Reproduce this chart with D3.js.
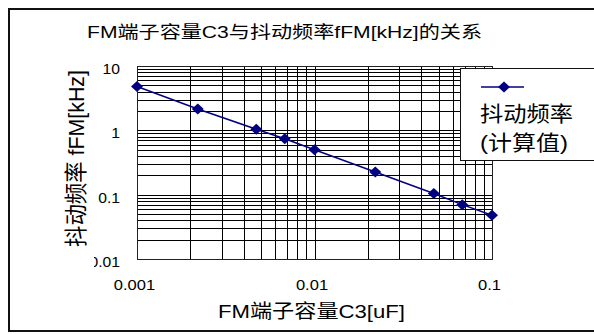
<!DOCTYPE html>
<html>
<head>
<meta charset="utf-8">
<script src="https://cdn.jsdelivr.net/npm/d3@7/dist/d3.min.js"></script>
<style>
  html, body { margin: 0; padding: 0; background: #fff; }
  svg { display: block; }
  text { font-family: "Liberation Sans", Arial, "Noto Sans CJK SC", sans-serif; fill: #000; }
</style>
</head>
<body>
<svg id="chart" width="594" height="334"></svg>
<script>
// Capacitance at the FM pin (uF) and the resulting jitter frequency (kHz)
const capacitance = [0.001, 0.0022, 0.0047, 0.0068, 0.01, 0.022, 0.047, 0.068, 0.1];
const jitterFreq  = [4.8, 2.15, 1.04, 0.74, 0.5, 0.225, 0.104, 0.07, 0.048];

const xTickLabels = ["0.001", "0.01", "0.1"];
const yTickLabels = ["0.01", "0.1", "1", "10"];

const titleText  = "FM端子容量C3与抖动频率fFM[kHz]的关系";
const xTitleText = "FM端子容量C3[uF]";
const yTitleText = "抖动频率 fFM[kHz]";
const legendLines = ["抖动频率", "(计算值)"];

const svg = d3.select("#chart");
const W = 594, H = 334;
const plot = { left: 137, right: 492, top: 66, bottom: 259 };
const navy = "#000080";

const x = d3.scaleLog().domain([0.001, 0.1]).range([plot.left, plot.right]);
const y = d3.scaleLog().domain([0.01, 10]).range([plot.bottom, plot.top]);

// stretch text horizontally to a given width
function fit(sel, width) {
  sel.attr("textLength", width).attr("lengthAdjust", "spacingAndGlyphs");
}
function widen(sel, k) {
  sel.each(function () {
    const n = this.getComputedTextLength();
    d3.select(this).attr("textLength", n * k).attr("lengthAdjust", "spacingAndGlyphs");
  });
}

// outer frame
svg.append("rect").attr("x", 0).attr("y", 0).attr("width", W).attr("height", H).attr("fill", "#fff");
svg.append("rect")
  .attr("x", 9).attr("y", 9).attr("width", 620).attr("height", 322)
  .attr("fill", "#fff").attr("stroke", "#111").attr("stroke-width", 2);

// title
svg.append("text")
  .attr("x", 284.5).attr("y", 32)
  .attr("text-anchor", "middle").attr("dominant-baseline", "central")
  .style("font-size", "17px")
  .text(titleText)
  .call(fit, 395);

// log grid (every integer multiple within each decade)
const grid = svg.append("g").attr("stroke", "#000").attr("stroke-width", 1).attr("shape-rendering", "crispEdges");
grid.selectAll("line.v").data(x.ticks()).join("line")
  .attr("class", "v")
  .attr("x1", d => Math.round(x(d)) + 0.5).attr("x2", d => Math.round(x(d)) + 0.5)
  .attr("y1", plot.top).attr("y2", plot.bottom);
grid.selectAll("line.h").data(y.ticks()).join("line")
  .attr("class", "h")
  .attr("y1", d => Math.round(y(d)) + 0.5).attr("y2", d => Math.round(y(d)) + 0.5)
  .attr("x1", plot.left).attr("x2", plot.right);

// plot frame
svg.append("rect")
  .attr("x", plot.left + 0.5).attr("y", plot.top + 0.5)
  .attr("width", plot.right - plot.left).attr("height", plot.bottom - plot.top)
  .attr("fill", "none").attr("stroke", "#222").attr("stroke-width", 1)
  .attr("shape-rendering", "crispEdges");

// axis tick labels (the value axis labels are clipped at the left margin)
svg.append("clipPath").attr("id", "yLabClip")
  .append("rect").attr("x", 94).attr("y", 0).attr("width", 60).attr("height", H);

svg.append("g").attr("clip-path", "url(#yLabClip)")
  .selectAll("text").data(yTickLabels).join("text")
  .attr("x", 120).attr("y", d => y(+d) + 3)
  .attr("text-anchor", "end").attr("dominant-baseline", "central")
  .style("font-size", "14px")
  .text(d => d)
  .call(widen, 1.12);

svg.append("g")
  .selectAll("text").data(xTickLabels).join("text")
  .attr("x", d => x(+d) - 2.5).attr("y", 285)
  .attr("text-anchor", "middle").attr("dominant-baseline", "central")
  .style("font-size", "14px")
  .text(d => d)
  .call(widen, 1.18);

// axis titles
svg.append("text")
  .attr("x", 311.5).attr("y", 311)
  .attr("text-anchor", "middle").attr("dominant-baseline", "central")
  .style("font-size", "19px")
  .text(xTitleText)
  .call(fit, 187);

svg.append("text")
  .attr("transform", "translate(76,158.5) rotate(-90) scale(1,1.25)")
  .attr("text-anchor", "middle").attr("dominant-baseline", "central")
  .style("font-size", "18px")
  .text(yTitleText)
  .call(fit, 177);

// series
const pts = capacitance.map((c, i) => [c, jitterFreq[i]]);
svg.append("path")
  .datum(pts)
  .attr("fill", "none").attr("stroke", navy).attr("stroke-width", 1.5)
  .attr("d", d3.line().x(d => x(d[0])).y(d => y(d[1])));

const diamond = "M0,-5.5L6,0L0,5.5L-6,0Z";
svg.append("g").selectAll("path").data(pts).join("path")
  .attr("transform", d => `translate(${x(d[0])},${y(d[1])})`)
  .attr("d", diamond).attr("fill", navy);

// legend
const lg = svg.append("g");
lg.append("rect")
  .attr("x", 460.5).attr("y", 68.5).attr("width", 200).attr("height", 92)
  .attr("fill", "#fff").attr("stroke", "#111").attr("stroke-width", 1)
  .attr("shape-rendering", "crispEdges");
lg.append("line")
  .attr("x1", 481).attr("x2", 524).attr("y1", 87).attr("y2", 87)
  .attr("stroke", navy).attr("stroke-width", 1.5);
lg.append("path").attr("transform", "translate(504,87)").attr("d", diamond).attr("fill", navy);
lg.selectAll("text").data(legendLines).join("text")
  .attr("x", 480).attr("y", (d, i) => 113 + i * 29)
  .attr("dominant-baseline", "central")
  .style("font-size", "21px")
  .text(d => d)
  .each(function (d, i) { fit(d3.select(this), i === 0 ? 93 : 88); });
</script>
</body>
</html>
